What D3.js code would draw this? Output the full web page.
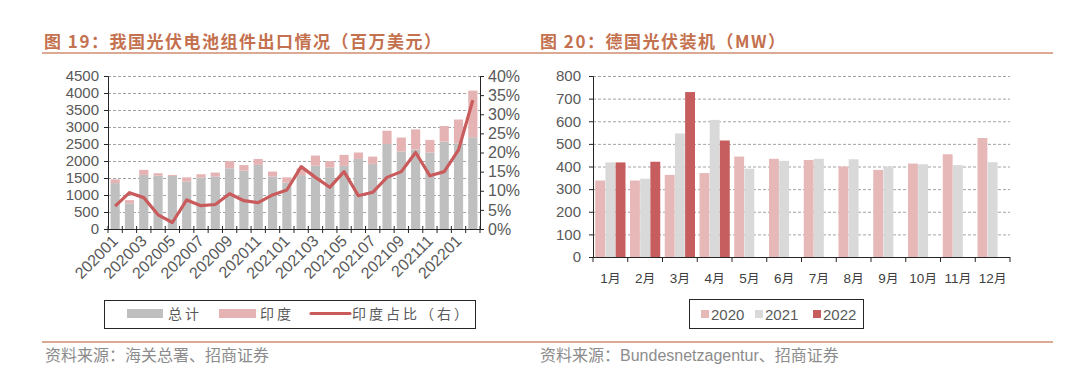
<!DOCTYPE html>
<html>
<head>
<meta charset="utf-8">
<script src="https://cdn.jsdelivr.net/npm/d3@7"></script>
<style>
  body { margin: 0; background: #fff; }
  svg { display: block; font-family: "Liberation Sans", Arial, sans-serif; }
  .cjk { font-family: "Noto Sans CJK SC", sans-serif; }
</style>
</head>
<body>
<svg id="chart" width="1080" height="377"></svg>
<script>
"use strict";

// Fig 19 - China PV module exports (USD mn)
const months19 = ["202001","202002","202003","202004","202005","202006","202007","202008","202009","202010","202011","202012",
  "202101","202102","202103","202104","202105","202106","202107","202108","202109","202110","202111","202112","202201","202202"];
const totalExport = [1460, 850, 1740, 1640, 1590, 1520, 1610, 1660, 2000, 1880, 2060, 1690,
  1520, 1780, 2160, 2000, 2180, 2250, 2130, 2890, 2690, 2930, 2620, 3030, 3220, 4070];
const indiaExport = [110, 95, 150, 70, 30, 125, 95, 115, 215, 165, 175, 145,
  155, 195, 300, 190, 325, 190, 215, 390, 410, 590, 370, 460, 700, 1370];
const indiaShare = [6.0, 9.5, 8.2, 3.7, 1.7, 7.6, 6.1, 6.4, 9.2, 7.4, 6.9, 8.9,
  10.2, 16.3, 13.5, 10.9, 15.0, 8.7, 9.6, 13.5, 15.0, 20.0, 13.9, 15.0, 20.7, 33.7];
const leftTicks19 = [0, 500, 1000, 1500, 2000, 2500, 3000, 3500, 4000, 4500];
const rightTicks19 = [0, 5, 10, 15, 20, 25, 30, 35, 40];

// Fig 20 - Germany PV installations (MW)
const months20 = ["1月","2月","3月","4月","5月","6月","7月","8月","9月","10月","11月","12月"];
const years20 = ["2020", "2021", "2022"];
const mw2020 = [338, 338, 363, 371, 444, 434, 429, 400, 385, 413, 454, 526];
const mw2021 = [418, 346, 546, 606, 390, 425, 434, 432, 400, 410, 406, 419];
const mw2022 = [418, 421, 729, 515, null, null, null, null, null, null, null, null];
const ticks20 = [0, 100, 200, 300, 400, 500, 600, 700, 800];

const svg = d3.select("#chart");
const titleColor = "#c4714f";
const axisText = "#595959";

// header / footer rules
svg.append("line").attr("x1", 42).attr("x2", 1053).attr("y1", 53).attr("y2", 53)
  .attr("stroke", "#d08c70").attr("stroke-width", 1.5);
svg.append("line").attr("x1", 42).attr("x2", 1053).attr("y1", 342).attr("y2", 342)
  .attr("stroke", "#d08c70").attr("stroke-width", 1.5);

svg.append("text").attr("class", "cjk").attr("x", 44).attr("y", 48)
  .attr("fill", titleColor).attr("font-size", 17).attr("font-weight", "bold")
  .attr("letter-spacing", 1.5)
  .text("图 19：我国光伏电池组件出口情况（百万美元）");
svg.append("text").attr("class", "cjk").attr("x", 540).attr("y", 48)
  .attr("fill", titleColor).attr("font-size", 17).attr("font-weight", "bold")
  .attr("letter-spacing", 1.5)
  .text("图 20：德国光伏装机（MW）");

svg.append("text").attr("class", "cjk").attr("x", 45).attr("y", 361)
  .attr("fill", "#8c8c8c").attr("font-size", 16)
  .text("资料来源：海关总署、招商证券");
svg.append("text").attr("x", 540).attr("y", 361)
  .attr("fill", "#8c8c8c").attr("font-size", 16)
  .call(t => {
    t.append("tspan").attr("class", "cjk").text("资料来源：");
    t.append("tspan").text("Bundesnetzagentur");
    t.append("tspan").attr("class", "cjk").text("、招商证券");
  });

function gridlines(g, scale, ticks, x0, x1) {
  g.selectAll("line.grid").data(ticks.slice(1)).join("line")
    .attr("class", "grid")
    .attr("x1", x0).attr("x2", x1)
    .attr("y1", d => scale(d) + 0.5).attr("y2", d => scale(d) + 0.5)
    .attr("stroke", "#8c8c8c").attr("stroke-width", 0.8)
    .attr("stroke-dasharray", "3,2");
}

function styleAxis(g, size) {
  g.selectAll("path, line").attr("stroke", "#262626");
  g.selectAll("text").attr("fill", axisText).attr("font-size", size);
}

// ---------- Figure 19 ----------
{
  const x0 = 108, x1 = 480, yTop = 76, yBot = 229;
  const x = d3.scaleBand().domain(months19).range([x0, x1]).paddingInner(0.36).paddingOuter(0.18);
  const band = d3.scaleBand().domain(months19).range([x0, x1]);
  const y = d3.scaleLinear().domain([0, 4500]).range([yBot, yTop]);
  const yR = d3.scaleLinear().domain([0, 40]).range([yBot, yTop]);

  const g = svg.append("g");
  gridlines(g, y, leftTicks19, x0, x1);

  const rows = months19.map((m, i) => ({ m, total: totalExport[i], india: indiaExport[i], share: indiaShare[i] }));

  g.selectAll("rect.total").data(rows).join("rect")
    .attr("x", d => x(d.m)).attr("width", x.bandwidth())
    .attr("y", d => y(d.total - d.india)).attr("height", d => yBot - y(d.total - d.india))
    .attr("fill", "#bfbfbf");
  g.selectAll("rect.india").data(rows).join("rect")
    .attr("x", d => x(d.m)).attr("width", x.bandwidth())
    .attr("y", d => y(d.total)).attr("height", d => y(d.total - d.india) - y(d.total))
    .attr("fill", "#e6b3b4");

  g.append("path").datum(rows)
    .attr("fill", "none").attr("stroke", "#c95b5c").attr("stroke-width", 3.2)
    .attr("stroke-linejoin", "round")
    .attr("d", d3.line().x(d => x(d.m) + x.bandwidth() / 2).y(d => yR(d.share)));

  // axes
  const ya = g.append("g").attr("transform", `translate(${x0},0)`)
    .call(d3.axisLeft(y).tickValues(leftTicks19).tickFormat(d3.format("d")).tickSize(4).tickPadding(5));
  styleAxis(ya, 15);
  const yra = g.append("g").attr("transform", `translate(${x1},0)`)
    .call(d3.axisRight(yR).tickValues(rightTicks19).tickSize(4).tickPadding(4).tickFormat(d => d + "%"));
  styleAxis(yra, 16);

  const xa = g.append("g").attr("transform", `translate(0,${yBot})`);
  xa.append("line").attr("x1", x0).attr("x2", x1).attr("y1", 0.5).attr("y2", 0.5).attr("stroke", "#262626");
  xa.selectAll("line.tk").data(months19.concat(["end"])).join("line")
    .attr("x1", (d, i) => i < months19.length ? band(d) : x1)
    .attr("x2", (d, i) => i < months19.length ? band(d) : x1)
    .attr("y1", -3).attr("y2", 4).attr("stroke", "#262626");
  xa.selectAll("text").data(months19.filter((d, i) => i % 2 === 0)).join("text")
    .attr("transform", d => `translate(${x(d) + x.bandwidth() / 2 + 4},${13}) rotate(-45)`)
    .attr("text-anchor", "end").attr("font-size", 16).attr("fill", axisText)
    .text(d => d);

  // legend
  const lg = svg.append("g").attr("class", "cjk");
  lg.append("rect").attr("x", 104.5).attr("y", 300.5).attr("width", 371).attr("height", 28)
    .attr("fill", "#fff").attr("stroke", "#262626");
  lg.append("rect").attr("x", 127).attr("y", 309).attr("width", 36).attr("height", 9).attr("fill", "#bfbfbf");
  lg.append("text").attr("x", 168).attr("y", 319).attr("font-size", 14).attr("fill", axisText)
    .attr("letter-spacing", 3).text("总计");
  lg.append("rect").attr("x", 219).attr("y", 309).attr("width", 37).attr("height", 9).attr("fill", "#e6b3b4");
  lg.append("text").attr("x", 260).attr("y", 319).attr("font-size", 14).attr("fill", axisText)
    .attr("letter-spacing", 3).text("印度");
  lg.append("line").attr("x1", 311).attr("x2", 350).attr("y1", 313.5).attr("y2", 313.5)
    .attr("stroke", "#c95b5c").attr("stroke-width", 3.2).attr("stroke-linecap", "round");
  lg.append("text").attr("x", 352).attr("y", 319).attr("font-size", 14).attr("fill", axisText)
    .attr("letter-spacing", 3).text("印度占比（右）");
}

// ---------- Figure 20 ----------
{
  const x0 = 593, x1 = 1010, yTop = 76, yBot = 257;
  const x = d3.scaleBand().domain(months20).range([x0, x1]).paddingInner(0.13).paddingOuter(0.065);
  const xs = d3.scaleBand().domain(years20).range([0, x.bandwidth()]).paddingInner(0.03);
  const y = d3.scaleLinear().domain([0, 800]).range([yBot, yTop]);
  const colors = { "2020": "#e6b8b8", "2021": "#d9d9d9", "2022": "#c65d5e" };
  const series = { "2020": mw2020, "2021": mw2021, "2022": mw2022 };

  const g = svg.append("g");
  gridlines(g, y, ticks20, x0, x1);

  const cells = [];
  months20.forEach((m, i) => years20.forEach(yr => {
    if (series[yr][i] != null) cells.push({ m, yr, v: series[yr][i] });
  }));
  g.selectAll("rect.bar").data(cells).join("rect")
    .attr("x", d => x(d.m) + xs(d.yr)).attr("width", xs.bandwidth())
    .attr("y", d => y(d.v)).attr("height", d => yBot - y(d.v))
    .attr("fill", d => colors[d.yr]);

  const ya = g.append("g").attr("transform", `translate(${x0},0)`)
    .call(d3.axisLeft(y).tickValues(ticks20).tickSize(4).tickPadding(8));
  styleAxis(ya, 15);

  const xa = g.append("g").attr("transform", `translate(0,${yBot})`);
  const band = d3.scaleBand().domain(months20).range([x0, x1]);
  xa.append("line").attr("x1", x0).attr("x2", x1).attr("y1", 0.5).attr("y2", 0.5).attr("stroke", "#262626");
  xa.selectAll("line.tk").data(months20.concat(["end"])).join("line")
    .attr("x1", (d, i) => i < months20.length ? band(d) : x1)
    .attr("x2", (d, i) => i < months20.length ? band(d) : x1)
    .attr("y1", 0).attr("y2", 5).attr("stroke", "#262626");
  xa.selectAll("text").data(months20).join("text")
    .attr("x", d => band(d) + band.bandwidth() / 2).attr("y", 26)
    .attr("text-anchor", "middle").attr("font-size", 13.5).attr("fill", "#404040")
    .call(t => t.each(function(d) {
      const s = d3.select(this);
      s.append("tspan").text(d.replace("月", ""));
      s.append("tspan").attr("class", "cjk").attr("font-size", 12.5).text("月");
    }));

  const lg = svg.append("g");
  lg.append("rect").attr("x", 689.5).attr("y", 299.5).attr("width", 174).attr("height", 29)
    .attr("fill", "#fff").attr("stroke", "#262626");
  const lx = [701, 755, 813];
  years20.forEach((yr, i) => {
    lg.append("rect").attr("x", lx[i]).attr("y", 310).attr("width", 8).attr("height", 8).attr("fill", colors[yr]);
    lg.append("text").attr("x", lx[i] + 10).attr("y", 320).attr("font-size", 15).attr("fill", axisText).text(yr);
  });
}
</script>
</body>
</html>
